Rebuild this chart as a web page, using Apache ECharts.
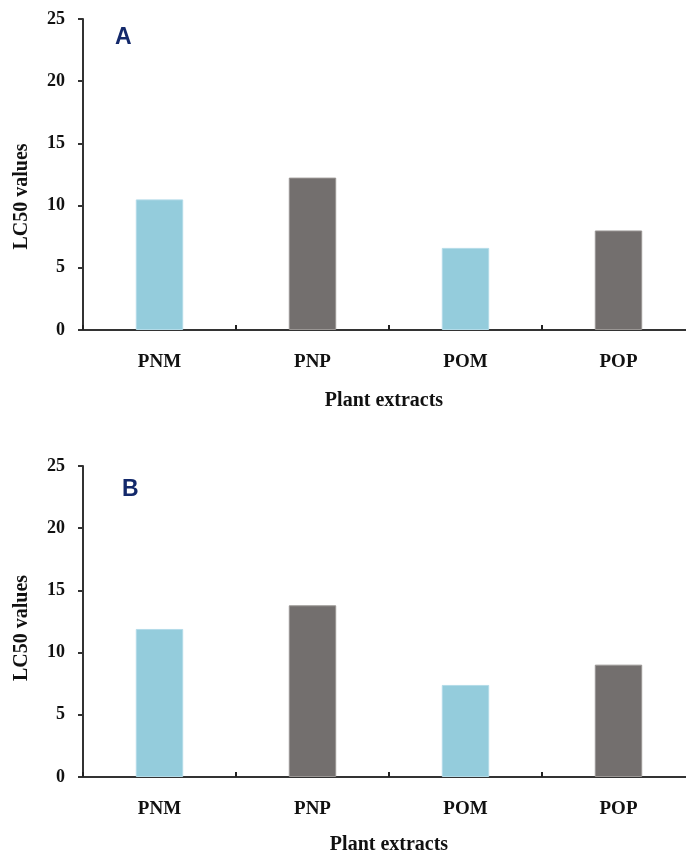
<!DOCTYPE html>
<html>
<head>
<meta charset="utf-8">
<script src="https://cdn.jsdelivr.net/npm/echarts@6/dist/echarts.min.js"></script>
<style>
html,body{margin:0;padding:0;background:#fff;overflow:hidden;}
#main{width:700px;height:856px;}
</style>
</head>
<body>
<div id="main"></div>
<script>
const categories = ['PNM', 'PNP', 'POM', 'POP'];
const valuesA = [10.5, 12.25, 6.6, 8.0];
const valuesB = [11.9, 13.8, 7.4, 9.03];
const barColors = ['#94ccdc', '#736f6e', '#94ccdc', '#736f6e'];
const barBorders = ['#b3dbe8', '#9a9694', '#b3dbe8', '#9a9694'];
const yTicks = { min: 0, max: 25, interval: 5 };
const panelLabels = ['A', 'B'];
const xName = 'Plant extracts';
const yName = 'LC50 values';

const serif = '"Liberation Serif", "Times New Roman", serif';
const chart = echarts.init(document.getElementById('main'), null, { renderer: 'canvas' });

function mkData(vals) {
  return vals.map((v, i) => ({
    value: v,
    itemStyle: { color: barColors[i], borderColor: barBorders[i], borderWidth: 1 }
  }));
}

function xAxis(gridIndex, gap, padR) {
  return {
    type: 'category', gridIndex, data: categories,
    boundaryGap: true,
    name: xName, nameLocation: 'middle', nameGap: gap,
    nameTextStyle: { fontFamily: serif, fontWeight: 'bold', fontSize: 20, color: '#111', padding: [0, padR, 0, 0] },
    axisLine: { show: true, lineStyle: { color: '#333', width: 2 } },
    axisTick: { show: true, inside: true, length: 5, alignWithLabel: false, lineStyle: { color: '#222', width: 2 } },
    axisLabel: { fontFamily: serif, fontWeight: 'bold', fontSize: 19, color: '#111', margin: 23 },
    splitLine: { show: false }
  };
}

function yAxis(gridIndex, pad) {
  return {
    type: 'value', gridIndex,
    min: yTicks.min, max: yTicks.max, interval: yTicks.interval,
    name: yName, nameLocation: 'middle', nameGap: 51, nameRotate: 90,
    nameTextStyle: { fontFamily: serif, fontWeight: 'bold', fontSize: 20, color: '#111', padding: [0, pad, 0, 0] },
    axisLine: { show: true, lineStyle: { color: '#333', width: 2 } },
    axisTick: { show: true, inside: false, length: 5, lineStyle: { color: '#333', width: 2 } },
    axisLabel: { fontFamily: serif, fontWeight: 'bold', fontSize: 18, color: '#111', margin: 18 },
    splitLine: { show: false }
  };
}

const option = {
  backgroundColor: '#ffffff',
  animation: false,
  title: [
    { text: panelLabels[0], left: 115, top: 26, padding: 0,
      textStyle: { fontFamily: '"Liberation Sans", Arial, sans-serif', fontWeight: 'bold', fontSize: 23, color: '#13296b' } },
    { text: panelLabels[1], left: 122, top: 478, padding: 0,
      textStyle: { fontFamily: '"Liberation Sans", Arial, sans-serif', fontWeight: 'bold', fontSize: 23, color: '#13296b' } }
  ],
  grid: [
    { left: 83, top: 19, width: 612, height: 311, containLabel: false },
    { left: 83, top: 466, width: 612, height: 313, containLabel: false }
  ],
  xAxis: [xAxis(0, 61, 10), xAxis(1, 58, 0)],
  yAxis: [yAxis(0, 44), yAxis(1, 13)],
  series: [
    { type: 'bar', xAxisIndex: 0, yAxisIndex: 0, data: mkData(valuesA), barWidth: '31%' },
    { type: 'bar', xAxisIndex: 1, yAxisIndex: 1, data: mkData(valuesB), barWidth: '31%' }
  ]
};
chart.setOption(option);
</script>
</body>
</html>
